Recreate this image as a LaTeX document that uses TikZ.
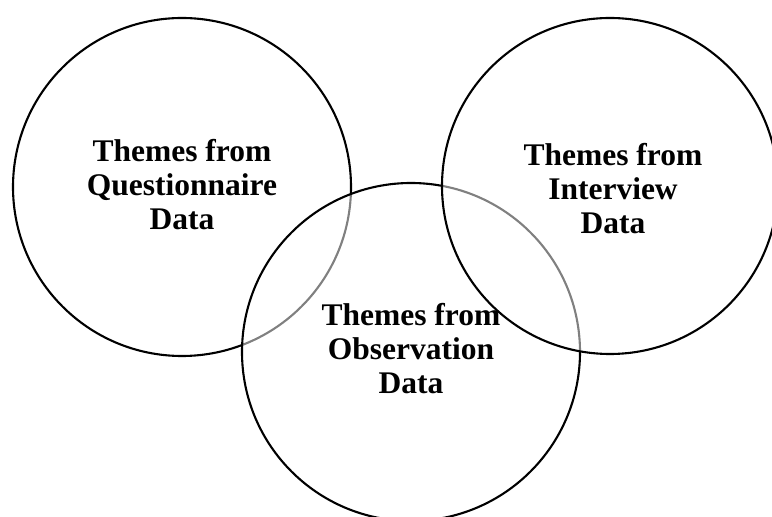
\documentclass[tikz,border=0pt]{standalone}
\usepackage{fontspec}
\setmainfont{Liberation Serif}
\begin{document}
\begin{tikzpicture}[x=1pt,y=1pt,
  ring/.style={draw=black,line width=2.1pt},
  veil/.style={fill=white,fill opacity=0.5},
  label/.style={font=\fontsize{31.5}{34}\selectfont\bfseries,align=center,inner sep=0pt,anchor=base}]
\useasboundingbox (0,0) rectangle (772,517);
\clip (0,0) rectangle (772,517);
\node[ring,circle,minimum size=338pt,inner sep=0pt] (q) at (182,330) {};
\node[ring,veil,circle,minimum size=338pt,inner sep=0pt] (o) at (411,165) {};
\node[ring,veil,circle,minimum size=336pt,inner sep=0pt] (i) at (610,331) {};
\node[label] (qt) at (182,287) {Themes from\\Questionnaire\\Data};
\node[label] (it) at (613,283) {Themes from\\Interview\\Data};
\node[label] (ot) at (411,123) {Themes from\\Observation\\Data};
\end{tikzpicture}
\end{document}
